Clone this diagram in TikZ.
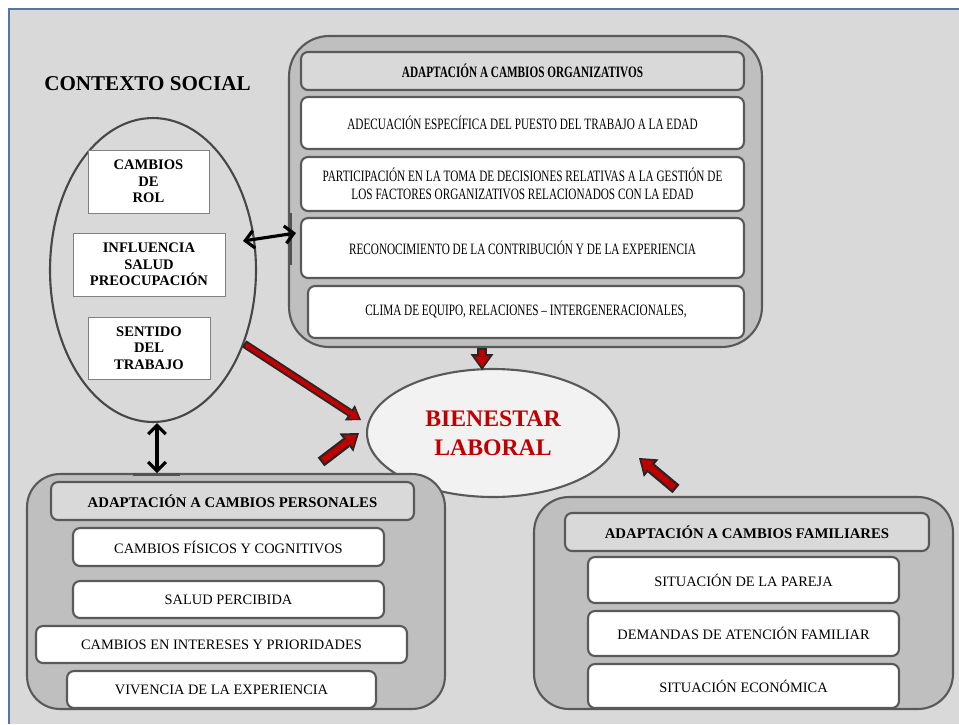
\documentclass[tikz,border=0pt]{standalone}
\usepackage{fontspec}
\setmainfont{Liberation Serif}
\newfontfamily\narrowserif[FakeStretch=0.71]{Liberation Serif}
\usepackage{tikz}
\usetikzlibrary{arrows.meta,calc,shapes.geometric}
\definecolor{panelgray}{RGB}{217,217,217}
\definecolor{boxgray}{RGB}{191,191,191}
\definecolor{edgegray}{RGB}{89,89,89}
\definecolor{frameblue}{RGB}{84,118,160}
\definecolor{wellred}{RGB}{192,0,0}
\definecolor{arrowdark}{RGB}{38,38,38}
\definecolor{ovalfill}{RGB}{242,242,242}

\tikzset{
  groupbox/.style={rectangle, draw=edgegray, line width=1.2pt, fill=boxgray, rounded corners=0.7cm, inner sep=0pt},
  headbox/.style={rectangle, draw=edgegray, line width=1.2pt, fill=panelgray, rounded corners=0.14cm, inner sep=0pt, font=\bfseries\fontsize{8.4}{10}\selectfont},
  itembox/.style={rectangle, draw=edgegray, line width=1.2pt, fill=white, rounded corners=0.14cm, inner sep=0pt, align=center, font=\fontsize{8.2}{10}\selectfont},
  orgitem/.style={itembox, font=\narrowserif\fontsize{9}{10.2}\selectfont},
  rolebox/.style={rectangle, draw=gray, line width=0.5pt, fill=white, inner sep=0pt, align=center, font=\bfseries\fontsize{8.3}{9.4}\selectfont},
  portbar/.style={draw=arrowdark!80, line width=1.7pt},
  twoway/.style={<->, >={Straight Barb[length=5pt,width=10pt]}, line width=1.8pt, draw=black},
  redarrow/.style={draw=wellred, line width=3.6pt, shorten <=1.3pt, shorten >=1.7pt,
    -{Triangle[length=6pt,width=8.8pt,line width=0pt]},
    preaction={draw=arrowdark, line width=6.2pt, shorten <=0pt, shorten >=0pt,
      -{Triangle[length=9pt,width=13pt,line width=0pt]}}},
  thinredarrow/.style={draw=wellred, line width=2.6pt, shorten <=1.1pt, shorten >=1.4pt,
    -{Triangle[length=5pt,width=7pt,line width=0pt]},
    preaction={draw=arrowdark, line width=4.6pt, shorten <=0pt, shorten >=0pt,
      -{Triangle[length=7.6pt,width=10.5pt,line width=0pt]}}}
}

\begin{document}
\begin{tikzpicture}[x=0.02cm,y=-0.02cm]
    \useasboundingbox (0,0) rectangle (959,724);
    % panel
    \fill[panelgray] (9,9) rectangle (959,724);
    \draw[frameblue,line width=0.6pt] (9,724) -- (9,9) -- (959,9);

    % social context
    \node[font=\bfseries\fontsize{12}{14}\selectfont] (ctxtitle) at (147.5,84) {CONTEXTO SOCIAL};
    \node[ellipse,draw=arrowdark!85,line width=1.2pt,fill=panelgray,minimum width=4.12cm,minimum height=6.08cm,inner sep=0pt] (social) at (153,270) {};
    \node[rolebox,minimum width=2.42cm,minimum height=1.26cm] (rol) at (148.5,181.5) {CAMBIOS\\DE\\ROL};
    \node[rolebox,minimum width=3.04cm,minimum height=1.26cm] (salud) at (149,264.5) {INFLUENCIA\\SALUD\\PREOCUPACIÓN};
    \node[rolebox,minimum width=2.44cm,minimum height=1.24cm] (sentido) at (149,348) {SENTIDO\\DEL\\TRABAJO};

    % organisational changes
    \node[groupbox,rounded corners=0.8cm,minimum width=9.46cm,minimum height=6.22cm] (org) at (525.5,191.5) {};
    \node[headbox,font=\narrowserif\bfseries\fontsize{9}{10}\selectfont,minimum width=8.86cm,minimum height=0.76cm] (orghead) at (522.5,71) {ADAPTACIÓN A CAMBIOS ORGANIZATIVOS};
    \node[orgitem,minimum width=8.86cm,minimum height=1.04cm] (org1) at (522.5,123) {ADECUACIÓN ESPECÍFICA DEL PUESTO DEL TRABAJO A LA EDAD};
    \node[orgitem,minimum width=8.86cm,minimum height=1.08cm] (org2) at (522.5,184) {PARTICIPACIÓN EN LA TOMA DE DECISIONES RELATIVAS A LA GESTIÓN DE\\LOS FACTORES ORGANIZATIVOS RELACIONADOS CON LA EDAD};
    \node[orgitem,minimum width=8.86cm,minimum height=1.2cm] (org3) at (522.5,248) {RECONOCIMIENTO DE LA CONTRIBUCIÓN Y DE LA EXPERIENCIA};
    \node[orgitem,minimum width=8.72cm,minimum height=1.04cm] (org4) at (526,312) {CLIMA DE EQUIPO, RELACIONES – INTERGENERACIONALES,};

    % wellbeing
    \node[ellipse,draw=edgegray,line width=1.2pt,fill=ovalfill,minimum width=5.04cm,minimum height=2.56cm,inner sep=0pt,
          align=center,text=wellred,font=\bfseries\fontsize{13.5}{16.4}\selectfont] (bien) at (493,433) {BIENESTAR\\LABORAL};

    % personal changes
    \node[groupbox,rounded corners=0.66cm,minimum width=8.36cm,minimum height=4.7cm] (pers) at (236,591.5) {};
    \node[headbox,minimum width=7.26cm,minimum height=0.76cm] (pershead) at (232.5,501) {ADAPTACIÓN A CAMBIOS PERSONALES};
    \node[itembox,minimum width=6.22cm,minimum height=0.76cm] (pers1) at (228.5,547) {CAMBIOS FÍSICOS Y COGNITIVOS};
    \node[itembox,minimum width=6.22cm,minimum height=0.74cm] (pers2) at (228.5,599.5) {SALUD PERCIBIDA};
    \node[itembox,minimum width=7.42cm,minimum height=0.74cm] (pers3) at (221.5,644.5) {CAMBIOS EN INTERESES Y PRIORIDADES};
    \node[itembox,minimum width=6.18cm,minimum height=0.74cm] (pers4) at (221.5,689.5) {VIVENCIA DE LA EXPERIENCIA};

    % family changes
    \node[groupbox,minimum width=8.38cm,minimum height=4.24cm] (fam) at (743.5,603) {};
    \node[headbox,minimum width=7.28cm,minimum height=0.76cm] (famhead) at (747,532) {ADAPTACIÓN A CAMBIOS FAMILIARES};
    \node[itembox,minimum width=6.22cm,minimum height=0.92cm] (fam1) at (743.5,580) {SITUACIÓN DE LA PAREJA};
    \node[itembox,minimum width=6.22cm,minimum height=0.9cm] (fam2) at (743.5,633.5) {DEMANDAS DE ATENCIÓN FAMILIAR};
    \node[itembox,minimum width=6.22cm,minimum height=0.88cm] (fam3) at (743.5,686) {SITUACIÓN ECONÓMICA};

    % links
    \draw[portbar] (291,213) -- (291,265);
    \draw[portbar] (133,474) -- (180,474);
    \coordinate (orgport) at (296,233);
    \coordinate (persport) at (157,473);
    \draw[twoway] ($(social.east)+(-14,-29)$) -- (orgport);
    \draw[twoway] (social.south -| persport) -- (persport);

    \draw[thinredarrow] (social.-39) -- ($(bien.west)+(-5,-13)$);
    \draw[redarrow] ($(pers.north)+(85,-11)$) -- ($(bien.west)+(-7,0)$);
    \draw[redarrow] ($(org.south)+(-43.5,0)$) -- ($(bien.north)+(-11,2)$);
    \draw[redarrow] ($(fam.north)+(-67.5,-7)$) -- ($(bien.east)+(19,25)$);
\end{tikzpicture}
\end{document}
